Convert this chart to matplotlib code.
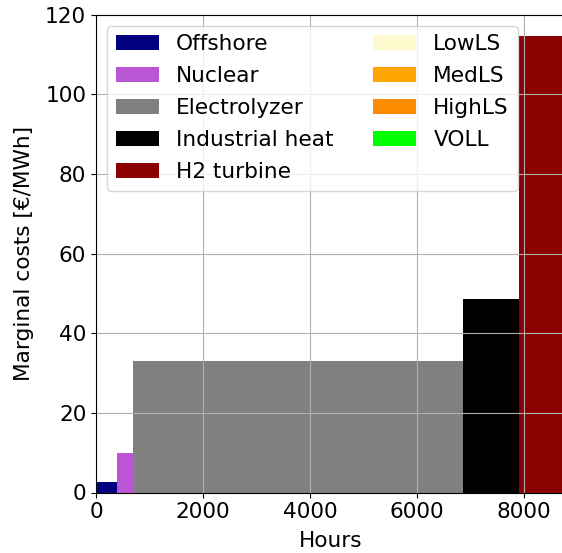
import numpy as np
import matplotlib
matplotlib.use("Agg")
import matplotlib.pyplot as plt

technologies = ["Offshore", "Nuclear", "Electrolyzer", "Industrial heat", "H2 turbine",
                "LowLS", "MedLS", "HighLS", "VOLL"]
durations = [387, 298, 6175, 1045, 855, 0, 0, 0, 0]          # hours
marginal_costs = [2.6, 9.8, 33.0, 48.6, 114.6, 0, 0, 0, 0]   # EUR/MWh
colors = ["navy", "mediumorchid", "grey", "black", "darkred",
          "lemonchiffon", "orange", "darkorange", "lime"]

plt.rcParams["font.size"] = 15.6

fig = plt.figure(figsize=(5.62, 5.53), dpi=100)
ax = fig.add_axes([96/562, (553-492.5)/553, (565-96)/562, (492.5-14.7)/553])

lefts = np.concatenate([[0], np.cumsum(durations)[:-1]])
for name, left, w, h, c in zip(technologies, lefts, durations, marginal_costs, colors):
    ax.bar(left, h, width=w, align="edge", color=c, label=name)

ax.set_xlim(0, 8760)
ax.set_ylim(0, 120)
ax.set_xticks([0, 2000, 4000, 6000, 8000])
ax.set_yticks([0, 20, 40, 60, 80, 100, 120])
ax.grid(True)
ax.set_xlabel("Hours", labelpad=6)
ax.set_ylabel("Marginal costs [€/MWh]", labelpad=8)
ax.legend(loc="upper left", ncol=2, labelspacing=0.55, columnspacing=1.8)

fig.savefig("out.png", dpi=100)
